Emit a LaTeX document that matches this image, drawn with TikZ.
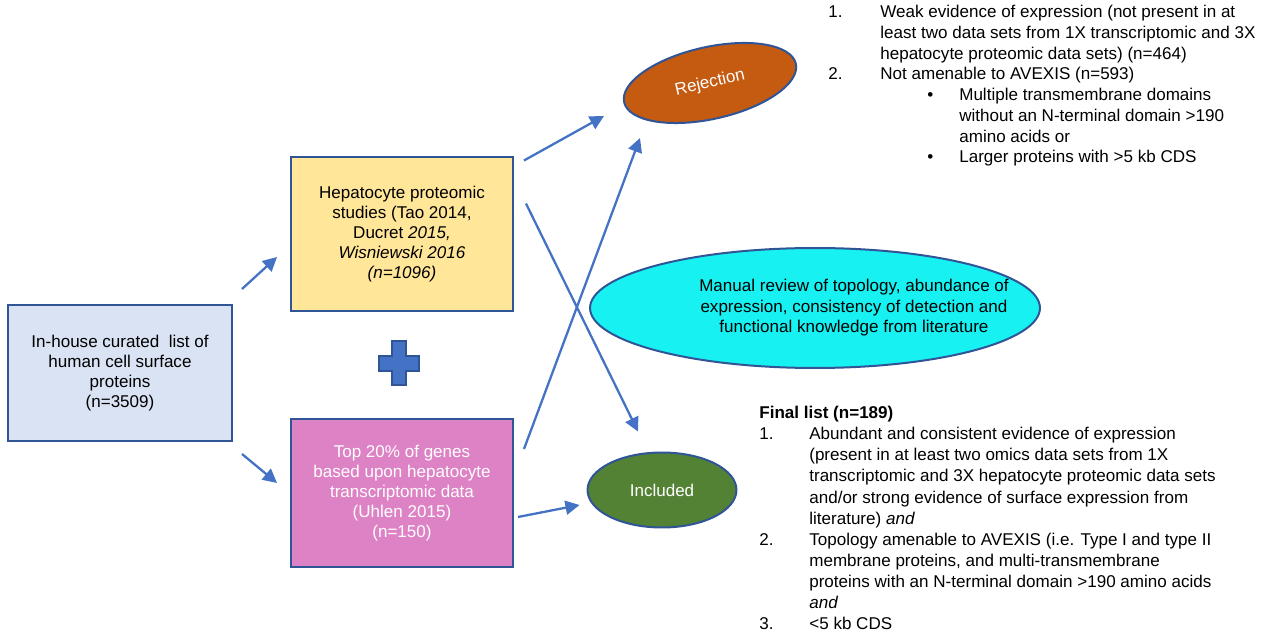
\documentclass[tikz,border=0pt]{standalone}
\usepackage{fontspec}
\setmainfont{Liberation Sans}
\usepackage{tikz}
\usetikzlibrary{calc}
\usetikzlibrary{positioning}
\usetikzlibrary{arrows.meta}
\usetikzlibrary{shapes.geometric}

\definecolor{lineblue}{HTML}{4472C4}
\definecolor{edgeblue}{HTML}{2F5597}
\definecolor{curfill}{HTML}{DAE3F3}
\definecolor{hepfill}{HTML}{FFE699}
\definecolor{pinkfill}{HTML}{DE82C6}
\definecolor{rejfill}{HTML}{C55A11}
\definecolor{inclfill}{HTML}{548235}
\definecolor{cyanfill}{HTML}{17F1F1}

\newcommand{\numcol}[1]{\makebox[1.04cm][l]{#1}}
\newcommand{\numcolb}[1]{\makebox[1.0cm][l]{#1}}
\newcommand{\bulcol}{\hspace*{1.98cm}\makebox[0.64cm][l]{\textbullet}}

\begin{document}
\begin{tikzpicture}[x=0.02cm,y=-0.02cm]
\tikzstyle{box}=[rectangle,align=center,draw=edgeblue,line width=0.4mm,inner sep=0pt,font=\fontsize{9.7}{11.4}\selectfont]
\tikzstyle{oval}=[ellipse,align=center,draw=edgeblue,line width=0.4mm,inner sep=0pt,font=\fontsize{9.7}{11.4}\selectfont]
\tikzstyle{list}=[anchor=north west,align=left,inner sep=0pt]
\tikzstyle{arr}=[-{Triangle[length=8pt,width=8pt]},draw=lineblue,line width=1.3pt]
\useasboundingbox (0,0) rectangle (1276,638);

% sources
\node[box,fill=curfill,minimum width=4.48cm,minimum height=2.72cm] at (120,373) (curated) {In-house curated\ \ list of\\human cell surface\\proteins\\(n=3509)};
\node[box,fill=hepfill,minimum width=4.44cm,minimum height=3.1cm] at (402,234) (hepato) {Hepatocyte proteomic\\studies (Tao 2014,\\Ducret \textit{2015,}\\\textit{Wisniewski 2016}\\\textit{(n=1096)}};
\node[box,fill=pinkfill,text=white,minimum width=4.44cm,minimum height=2.96cm] at (402,493) (transc) {Top 20\% of genes\\based upon hepatocyte\\transcriptomic data\\(Uhlen 2015)\\(n=150)};
\draw[draw=edgeblue,fill=lineblue,line width=0.4mm] (392,341) -- (406,341) -- (406,356) -- (419,356) -- (419,371) -- (406,371) -- (406,385) -- (392,385) -- (392,371) -- (379,371) -- (379,356) -- (392,356) -- cycle;

% outcomes
\node[oval,fill=rejfill,text=white,minimum width=3.52cm,minimum height=1.44cm,rotate=12.6] at (710,83) (rej) {Rejection};
\node[oval,fill=cyanfill,minimum width=9.0cm,minimum height=2.4cm] at (815,308) (review) {\makebox[0pt]{\hspace{1.56cm}\begin{tabular}{@{}c@{}}Manual review of topology, abundance of\\expression, consistency of detection and\\functional knowledge from literature\end{tabular}}};
\node[oval,fill=inclfill,text=white,minimum width=2.98cm,minimum height=1.5cm] at (662,490) (incl) {Included};

% criteria
\node[list,font=\fontsize{9.7}{11.8}\selectfont] at (828,5) (rejlist) {\numcol{1.}Weak evidence of expression (not present in at\\
\numcol{}least two data sets from 1X transcriptomic and 3X\\
\numcol{}hepatocyte proteomic data sets) (n=464)\\
\numcol{2.}Not amenable to AVEXIS (n=593)\\
\bulcol Multiple transmembrane domains\\
\hspace*{2.62cm}without an N-terminal domain >190\\
\hspace*{2.62cm}amino acids or\\
\bulcol Larger proteins with >5 kb CDS};
\node[list,font=\fontsize{9.7}{12}\selectfont] at (759,406) (finallist) {\textbf{Final list (n=189)}\\
\numcolb{1.}Abundant and consistent evidence of expression\\
\numcolb{}(present in at least two omics data sets from 1X\\
\numcolb{}transcriptomic and 3X hepatocyte proteomic data sets\\
\numcolb{}and/or strong evidence of surface expression from\\
\numcolb{}literature) \textit{and}\\
\numcolb{2.}Topology amenable to AVEXIS (i.e. Type I and type II\\
\numcolb{}membrane proteins, and multi-transmembrane\\
\numcolb{}proteins with an N-terminal domain >190 amino acids\\
\numcolb{}\textit{and}\\
\numcolb{3.}<5 kb CDS};

% arrows
\draw[arr] ([shift={(9,-15)}]curated.north east) -- ([shift={(-13,23)}]hepato.west);
\draw[arr] ([shift={(9,12)}]curated.south east) -- ([shift={(-13,-10)}]transc.west);
\draw[arr] ([shift={(10,5)}]hepato.north east) -- ([shift={(-106,33)}]rej.center);
\draw[arr] ([shift={(12,48)}]hepato.north east) -- ([shift={(-24,-20)}]incl.north);
\draw[arr] ([shift={(10,31)}]transc.north east) -- ([shift={(-70,55)}]rej.center);
\draw[arr] ([shift={(4,24)}]transc.east) -- ([shift={(-7,15)}]incl.west);
\end{tikzpicture}
\end{document}
